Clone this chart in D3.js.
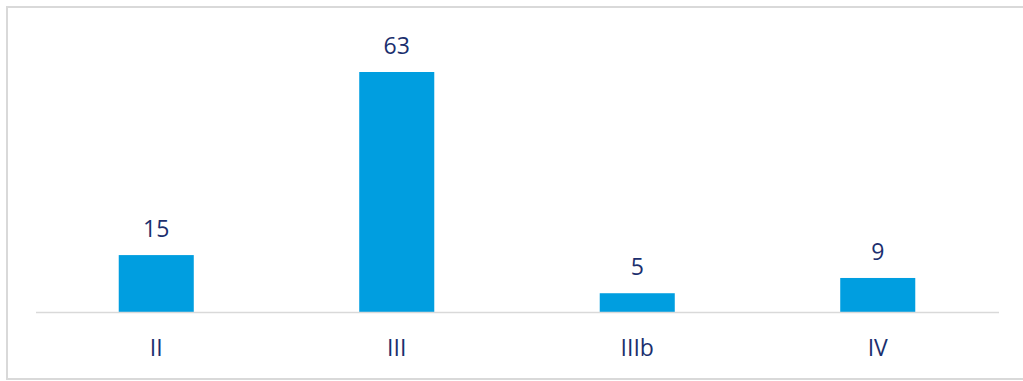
<!DOCTYPE html>
<html><head><meta charset="utf-8">
<script src="https://cdn.jsdelivr.net/npm/d3@7"></script>
<style>html,body{margin:0;padding:0;background:#fff;}svg{display:block;}</style>
</head><body>
<script>
const categories = ["II", "III", "IIIb", "IV"];
const values = [15, 63, 5, 9];

const W = 1023, H = 381;
const svg = d3.select("body").append("svg").attr("width", W).attr("height", H);

svg.append("rect").attr("x", 7).attr("y", 7).attr("width", W + 10).attr("height", 372)
  .attr("fill", "#fff").attr("stroke", "#d9d9d9").attr("stroke-width", 2);

const x = d3.scaleBand().domain(categories).range([36, 998])
  .paddingInner(0.688).paddingOuter(0.344).align(0.5);
const y = d3.scaleLinear().domain([0, 63]).range([312.3, 72]);

const textColor = "#1b2f6e";
const font = "'Open Sans', sans-serif";

svg.selectAll("rect.bar").data(values).join("rect").attr("class", "bar")
  .attr("x", (d, i) => x(categories[i]))
  .attr("width", x.bandwidth())
  .attr("y", d => y(d))
  .attr("height", d => y(0) - y(d))
  .attr("fill", "#009ee0");

svg.append("line").attr("x1", 36).attr("x2", 999).attr("y1", 312.5).attr("y2", 312.5)
  .attr("stroke", "#d9d9d9").attr("stroke-width", 1.5);

svg.selectAll("text.val").data(values).join("text").attr("class", "val")
  .attr("x", (d, i) => x(categories[i]) + x.bandwidth() / 2)
  .attr("y", d => y(d) - 18)
  .attr("text-anchor", "middle")
  .attr("font-family", font).attr("font-size", 23)
  .attr("fill", textColor)
  .text(d => d);

const axis = d3.axisBottom(x).tickSize(0).tickPadding(0);
const g = svg.append("g").attr("transform", "translate(0,312)").call(axis);
g.select(".domain").remove();
g.selectAll("text").attr("dy", null).attr("y", 44)
  .attr("font-family", font).attr("font-size", 23).attr("fill", textColor);
</script>
</body></html>
